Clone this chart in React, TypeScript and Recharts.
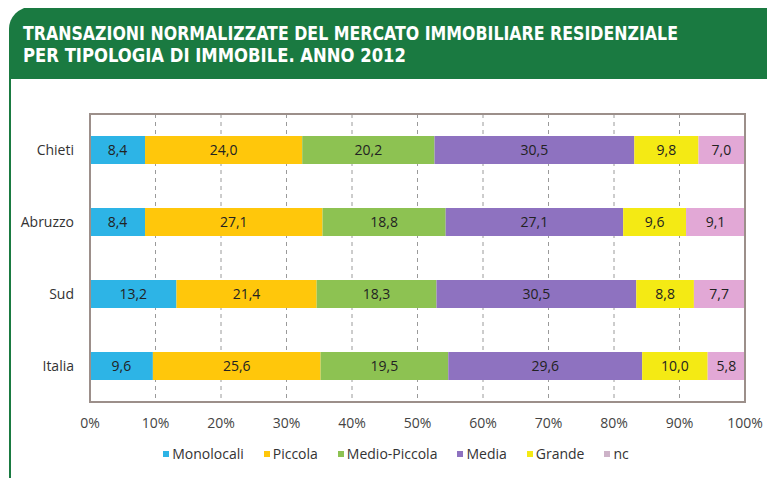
import React from "react";
import { BarChart, Bar, XAxis, YAxis, CartesianGrid, LabelList } from "recharts";

const categories = ["Chieti", "Abruzzo", "Sud", "Italia"];
const monolocali = [8.4, 8.4, 13.2, 9.6];
const piccola = [24.0, 27.1, 21.4, 25.6];
const medioPiccola = [20.2, 18.8, 18.3, 19.5];
const media = [30.5, 27.1, 30.5, 29.6];
const grande = [9.8, 9.6, 8.8, 10.0];
const nc = [7.0, 9.1, 7.7, 5.8];
const xTicks = [0, 10, 20, 30, 40, 50, 60, 70, 80, 90, 100];

const seriesDefs = [
  { key: "Monolocali", values: monolocali, color: "#2DB4E6", legend: "#2DB4E6" },
  { key: "Piccola", values: piccola, color: "#FFC70B", legend: "#FFC70B" },
  { key: "Medio-Piccola", values: medioPiccola, color: "#8DC252", legend: "#8DC252" },
  { key: "Media", values: media, color: "#8E72C0", legend: "#8E72C0" },
  { key: "Grande", values: grande, color: "#F4EA14", legend: "#F4EA14" },
  { key: "nc", values: nc, color: "#E2A8D6", legend: "#CDB3C8" },
];

const data = categories.map((c, i) => {
  const row: Record<string, any> = { name: c };
  seriesDefs.forEach((s) => {
    row[s.key] = s.values[i];
  });
  return row;
});

const fmt = (v: any) => Number(v).toFixed(1).replace(".", ",");
const FONT = "'Open Sans', 'DejaVu Sans', sans-serif";
const GREEN = "#1A7A41";
const FRAME = "#9c8f8a";

export default function App() {
  return (
    <div
      style={{
        position: "relative",
        width: 775,
        height: 486,
        margin: -8,
        background: "#fff",
        overflow: "hidden",
        fontFamily: FONT,
      }}
    >
      <div
        style={{
          position: "absolute",
          left: 9,
          top: 7,
          width: 800,
          height: 72,
          background: GREEN,
          borderTopLeftRadius: 22,
        }}
      />
      <div style={{ position: "absolute", left: 9, top: 60, width: 2, height: 430, background: GREEN }} />
      <svg style={{ position: "absolute", left: 0, top: 0 }} width={775} height={80}>
        <text
          x={23}
          y={39.5}
          fill="#fff"
          fontSize={19}
          fontWeight="bold"
          fontFamily="'Liberation Sans Narrow', 'DejaVu Sans Condensed', sans-serif"
          textLength={655}
          lengthAdjust="spacingAndGlyphs"
        >
          TRANSAZIONI NORMALIZZATE DEL MERCATO IMMOBILIARE RESIDENZIALE
        </text>
        <text
          x={23}
          y={62}
          fill="#fff"
          fontSize={19}
          fontWeight="bold"
          fontFamily="'Liberation Sans Narrow', 'DejaVu Sans Condensed', sans-serif"
          textLength={383}
          lengthAdjust="spacingAndGlyphs"
        >
          PER TIPOLOGIA DI IMMOBILE. ANNO 2012
        </text>
      </svg>
      <div style={{ position: "absolute", left: 0, top: 0 }}>
        <BarChart
          width={775}
          height={486}
          data={data}
          layout="vertical"
          margin={{ top: 114, right: 30, bottom: 54, left: 10 }}
        >
          <CartesianGrid vertical={true} horizontal={false} stroke="#9a9a9a" strokeDasharray="4 4" />
          <XAxis
            type="number"
            domain={[0, 100]}
            allowDataOverflow
            ticks={xTicks}
            tickFormatter={(v) => `${v}%`}
            axisLine={{ stroke: FRAME, strokeWidth: 2 }}
            tickLine={false}
            tickMargin={10}
            height={30}
            tick={{ fill: "#444", fontSize: 14, fontFamily: FONT }}
          />
          <YAxis
            type="category"
            dataKey="name"
            width={80}
            axisLine={{ stroke: FRAME, strokeWidth: 2 }}
            tickLine={false}
            tickMargin={10}
            tick={{ fill: "#333", fontSize: 14, fontFamily: FONT }}
          />
          {seriesDefs.map((s) => (
            <Bar key={s.key} dataKey={s.key} stackId="a" fill={s.color} barSize={28} isAnimationActive={false}>
              <LabelList
                dataKey={s.key}
                position="center"
                formatter={fmt}
                style={{ fill: "#222", fontSize: 14, fontFamily: FONT }}
              />
            </Bar>
          ))}
        </BarChart>
      </div>
      <div
        style={{
          position: "absolute",
          left: 89,
          top: 113,
          width: 657,
          height: 290,
          boxSizing: "border-box",
          border: `2px solid ${FRAME}`,
          zIndex: 10,
          pointerEvents: "none",
        }}
      />
      <div
        style={{
          position: "absolute",
          top: 444,
          left: 0,
          width: 775,
          display: "flex",
          justifyContent: "center",
          gap: 20,
          paddingLeft: 17,
          boxSizing: "border-box",
          fontSize: 14,
          color: "#333",
          fontFamily: FONT,
        }}
      >
        {seriesDefs.map((s) => (
          <div key={s.key} style={{ display: "flex", alignItems: "center" }}>
            <span style={{ width: 6, height: 6, background: s.legend, marginRight: 3, display: "inline-block" }} />
            <span>{s.key}</span>
          </div>
        ))}
      </div>
    </div>
  );
}
